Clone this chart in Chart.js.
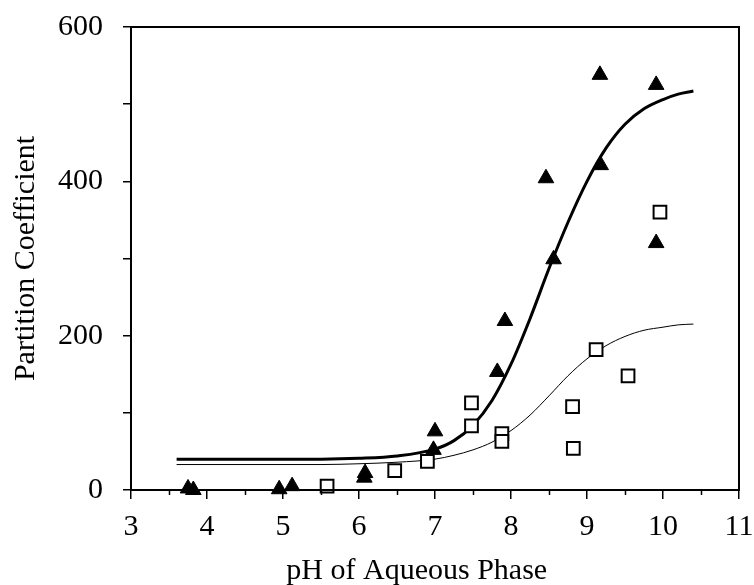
<!DOCTYPE html>
<html>
<head>
<meta charset="utf-8">
<title>Partition Coefficient vs pH</title>
<script src="https://cdn.jsdelivr.net/npm/chart.js@4.4.0/dist/chart.umd.min.js"></script>
<style>
  html, body { margin: 0; padding: 0; background: #fff; }
</style>
</head>
<body>
<canvas id="chart" width="754" height="585"></canvas>
<script>
// measured partition coefficients (filled triangles)
const triPH = [3.75, 3.82, 4.95, 5.12, 6.07, 6.08, 6.98, 7.0, 7.82, 7.92, 8.46, 8.56, 9.17, 9.18, 9.91, 9.91];
const triK  = [2, 0, 1, 5, 16, 22, 52, 76, 153, 219, 404, 299, 538, 421, 525, 320];

// measured partition coefficients (open squares)
const sqPH = [5.58, 6.47, 6.9, 7.48, 7.48, 7.88, 7.88, 8.81, 8.82, 9.12, 9.54, 9.96];
const sqK  = [5, 25, 37, 113, 83, 73, 63, 108, 54, 182, 148, 360];

// fitted curves, read at these pH values
const fitPH    = [3.6, 4.5, 5.5, 6.0, 6.5, 7.0, 7.25, 7.5, 7.75, 8.0, 8.25, 8.5, 8.75, 9.0, 9.25, 9.5, 9.75, 10.0, 10.2, 10.4];
const fitThick = [40, 40, 40, 41, 44, 53, 64, 84, 116, 163, 222, 287, 347, 400, 443, 474, 494, 506, 513, 517];
const fitThin  = [33, 33, 33, 34, 36, 40, 45, 52, 62, 77, 97, 122, 148, 170, 187, 199, 207, 211, 214, 215];

const xLabels = [3, 4, 5, 6, 7, 8, 9, 10, 11];
const yLabels = [0, 200, 400, 600];

const FONT = 'Liberation Serif';
const toPoints = (xs, ys) => xs.map((x, i) => ({ x, y: ys[i] }));

// box around the plot, short half-unit ticks and the x title
const framePlugin = {
  id: 'frame',
  afterDraw(chart) {
    const { ctx, chartArea: a, scales: { x } } = chart;
    ctx.save();
    ctx.strokeStyle = '#000';
    ctx.lineWidth = 2;
    ctx.strokeRect(a.left, a.top, a.right - a.left, a.bottom - a.top);

    ctx.lineWidth = 1.5;
    ctx.beginPath();
    for (let v = 3.5; v < 11; v += 1) {
      const px = Math.round(x.getPixelForValue(v)) + 0.5;
      ctx.moveTo(px, a.bottom);
      ctx.lineTo(px, a.bottom + 5);
    }
    ctx.stroke();

    ctx.fillStyle = '#000';
    ctx.font = `30px "${FONT}"`;
    ctx.textAlign = 'center';
    ctx.textBaseline = 'alphabetic';
    ctx.fillText('pH of Aqueous Phase', a.left + (a.right - a.left) * 0.47, chart.height - 6);
    ctx.restore();
  }
};

new Chart(document.getElementById('chart'), {
  type: 'scatter',
  data: {
    datasets: [
      {
        data: toPoints(triPH, triK),
        pointStyle: 'triangle',
        pointRadius: 9,
        backgroundColor: '#000',
        borderColor: '#000',
        borderWidth: 1,
        clip: false,
        order: 0
      },
      {
        data: toPoints(sqPH, sqK),
        pointStyle: 'rect',
        pointRadius: 9,
        backgroundColor: '#fff',
        borderColor: '#000',
        borderWidth: 2,
        clip: false,
        order: 0
      },
      {
        data: toPoints(fitPH, fitThick),
        showLine: true,
        pointRadius: 0,
        borderColor: '#000',
        borderWidth: 3,
        cubicInterpolationMode: 'monotone',
        order: 1
      },
      {
        data: toPoints(fitPH, fitThin),
        showLine: true,
        pointRadius: 0,
        borderColor: '#000',
        borderWidth: 1,
        cubicInterpolationMode: 'monotone',
        order: 1
      }
    ]
  },
  options: {
    responsive: false,
    animation: false,
    events: [],
    layout: { padding: { top: 27, right: 15, left: 0, bottom: 0 } },
    plugins: { legend: { display: false }, tooltip: { enabled: false } },
    scales: {
      x: {
        type: 'linear',
        min: 3,
        max: 11,
        afterFit: s => {
          s.height = 95;
          s.paddingLeft = 0;
          s.paddingRight = 0;
        },
        afterBuildTicks: s => {
          s.ticks = [];
          for (let v = 3; v <= 11; v += 0.5) s.ticks.push({ value: v });
        },
        border: { color: '#000', width: 2 },
        grid: {
          drawOnChartArea: false,
          tickLength: 9,
          lineWidth: 1.5,
          tickColor: c => (Number.isInteger(c.tick.value) ? '#000' : 'rgba(0,0,0,0)')
        },
        ticks: {
          autoSkip: false,
          maxRotation: 0,
          padding: 10,
          color: '#000',
          font: { family: FONT, size: 30 },
          callback: v => (xLabels.includes(v) ? String(v) : '')
        }
      },
      y: {
        min: 0,
        max: 600,
        afterFit: s => {
          s.width = 131;
          s.paddingTop = 0;
          s.paddingBottom = 0;
        },
        border: { color: '#000', width: 2 },
        grid: { drawOnChartArea: false, tickLength: 8, lineWidth: 1.5, tickColor: '#000' },
        ticks: {
          stepSize: 100,
          padding: 20,
          color: '#000',
          font: { family: FONT, size: 30 },
          callback: v => (yLabels.includes(v) ? String(v) : '')
        },
        title: {
          display: true,
          text: 'Partition Coefficient',
          color: '#000',
          font: { family: FONT, size: 30 },
          padding: { top: 8, bottom: 0 }
        }
      }
    }
  },
  plugins: [framePlugin]
});
</script>
</body>
</html>
